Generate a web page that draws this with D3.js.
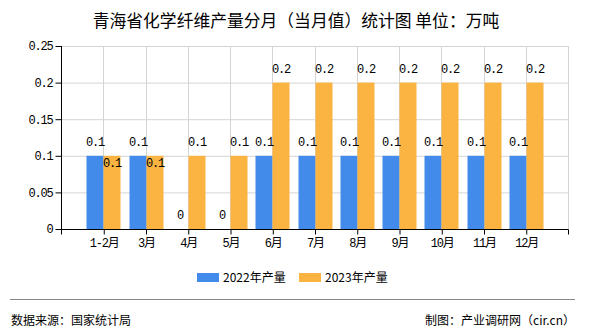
<!DOCTYPE html>
<html><head><meta charset="utf-8">
<script src="https://cdn.jsdelivr.net/npm/d3@7/dist/d3.min.js"></script>
<style>
body{margin:0;background:#fff;}
svg{display:block;}
</style></head>
<body><div id="chart"></div>
<script>
const categories = ["1-2月","3月","4月","5月","6月","7月","8月","9月","10月","11月","12月"];
const series2022 = [0.1,0.1,0,0,0.1,0.1,0.1,0.1,0.1,0.1,0.1];
const series2023 = [0.1,0.1,0.1,0.1,0.2,0.2,0.2,0.2,0.2,0.2,0.2];
const seriesNames = ["2022年产量","2023年产量"];
const yTicks = [0,0.05,0.1,0.15,0.2,0.25];
const title = "青海省化学纤维产量分月（当月值）统计图 单位：万吨";
const source = "数据来源：国家统计局";
const credit = "制图：产业调研网（cir.cn）";

const W=590,H=330;
const colors=["#428BEB","#FBB441"];
const numFont="'Liberation Mono','Noto Sans CJK SC',monospace";
const svg=d3.select("#chart").append("svg").attr("width",W).attr("height",H);

const x0=61,x1=568,yTop=46,yBot=229;
const x=d3.scalePoint().domain(categories).range([x0,x1]).padding(1);
const y=d3.scaleLinear().domain([0,0.25]).range([yBot,yTop]);
const bw=17;

// title
svg.append("text").attr("x",296).attr("y",27).attr("text-anchor","middle")
  .attr("font-family","'Noto Sans CJK SC',sans-serif").attr("font-size",16.8).attr("fill","#000").text(title);

// horizontal grid
svg.append("g").selectAll("line").data(yTicks.filter(d=>d>0)).join("line")
  .attr("x1",x0).attr("x2",x1).attr("y1",d=>y(d)+0.5).attr("y2",d=>y(d)+0.5)
  .attr("stroke","#d4d4d4").attr("stroke-width",1);
// vertical grid
svg.append("g").selectAll("line").data(categories).join("line")
  .attr("x1",d=>Math.round(x(d))+0.5).attr("x2",d=>Math.round(x(d))+0.5).attr("y1",yTop).attr("y2",yBot)
  .attr("stroke","#d4d4d4");
svg.append("line").attr("x1",x1+0.5).attr("x2",x1+0.5).attr("y1",yTop).attr("y2",yBot).attr("stroke","#d4d4d4");

// bars
const g=svg.append("g");
[series2022,series2023].forEach((s,si)=>{
  g.selectAll(null).data(s).join("rect")
    .attr("x",(d,i)=>Math.round(x(categories[i]))+(si===0?-bw:0)+0.5)
    .attr("y",d=>y(d)).attr("width",bw).attr("height",d=>yBot-y(d))
    .attr("fill",colors[si]);
});

// value labels
[series2022,series2023].forEach((s,si)=>{
  g.selectAll(null).data(s).join("text")
    .attr("x",(d,i)=>Math.round(x(categories[i]))+(si===0?-bw/2:bw/2)+0.5)
    .attr("y",(d,i)=>{
      const other=(si===0?series2023:series2022)[i];
      if(si===1 && other===d) return y(d)+11;
      return y(d)-10;
    })
    .attr("text-anchor","middle").attr("font-family",numFont).attr("font-size",12)
    .attr("letter-spacing","-1.2").attr("fill","#000").text(d=>d);
});

// axes
const yAxis=d3.axisLeft(y).tickValues(yTicks).tickSize(6).tickFormat(d=>d);
const ya=svg.append("g").attr("transform",`translate(${x0+0.5},0)`).call(yAxis);
ya.select(".domain").attr("stroke","#000").attr("d",`M0,${yTop}V${yBot+0.5}`);
ya.selectAll(".tick line").attr("stroke","#000");
ya.selectAll(".tick text").attr("font-family",numFont).attr("font-size",12).attr("letter-spacing","-1.2").attr("fill","#000").attr("x",-9);

const xAxis=d3.axisBottom(x).tickSize(5);
const xa=svg.append("g").attr("transform",`translate(0.5,${yBot+0.5})`).call(xAxis);
xa.select(".domain").attr("stroke","#000").attr("d",`M${x0-5},0H${x1}`);
xa.selectAll(".tick line").attr("stroke","#000");
xa.selectAll(".tick text").attr("font-family",numFont).attr("font-size",12).attr("letter-spacing","-1.2").attr("fill","#000").attr("y",9);
[x0,x1].forEach(v=>xa.append("line").attr("x1",v).attr("x2",v).attr("y1",0).attr("y2",5).attr("stroke","#000"));

// legend
const lg=svg.append("g");
const lx=[197,299];
seriesNames.forEach((n,i)=>{
  lg.append("rect").attr("x",lx[i]).attr("y",273).attr("width",22).attr("height",9).attr("fill",colors[i]);
  lg.append("text").attr("x",lx[i]+26).attr("y",282).attr("font-family","'Noto Sans CJK SC',sans-serif")
    .attr("font-size",12).attr("fill","#000").text(n);
});

// footer
svg.append("line").attr("x1",10).attr("x2",575).attr("y1",299.5).attr("y2",299.5).attr("stroke","#888");
svg.append("text").attr("x",11).attr("y",325).attr("font-family","'Noto Sans CJK SC',sans-serif").attr("font-size",12).attr("fill","#000").text(source);
svg.append("text").attr("x",575).attr("y",325).attr("text-anchor","end").attr("font-family","'Noto Sans CJK SC',sans-serif").attr("font-size",12).attr("fill","#000").text(credit);
</script></body></html>
